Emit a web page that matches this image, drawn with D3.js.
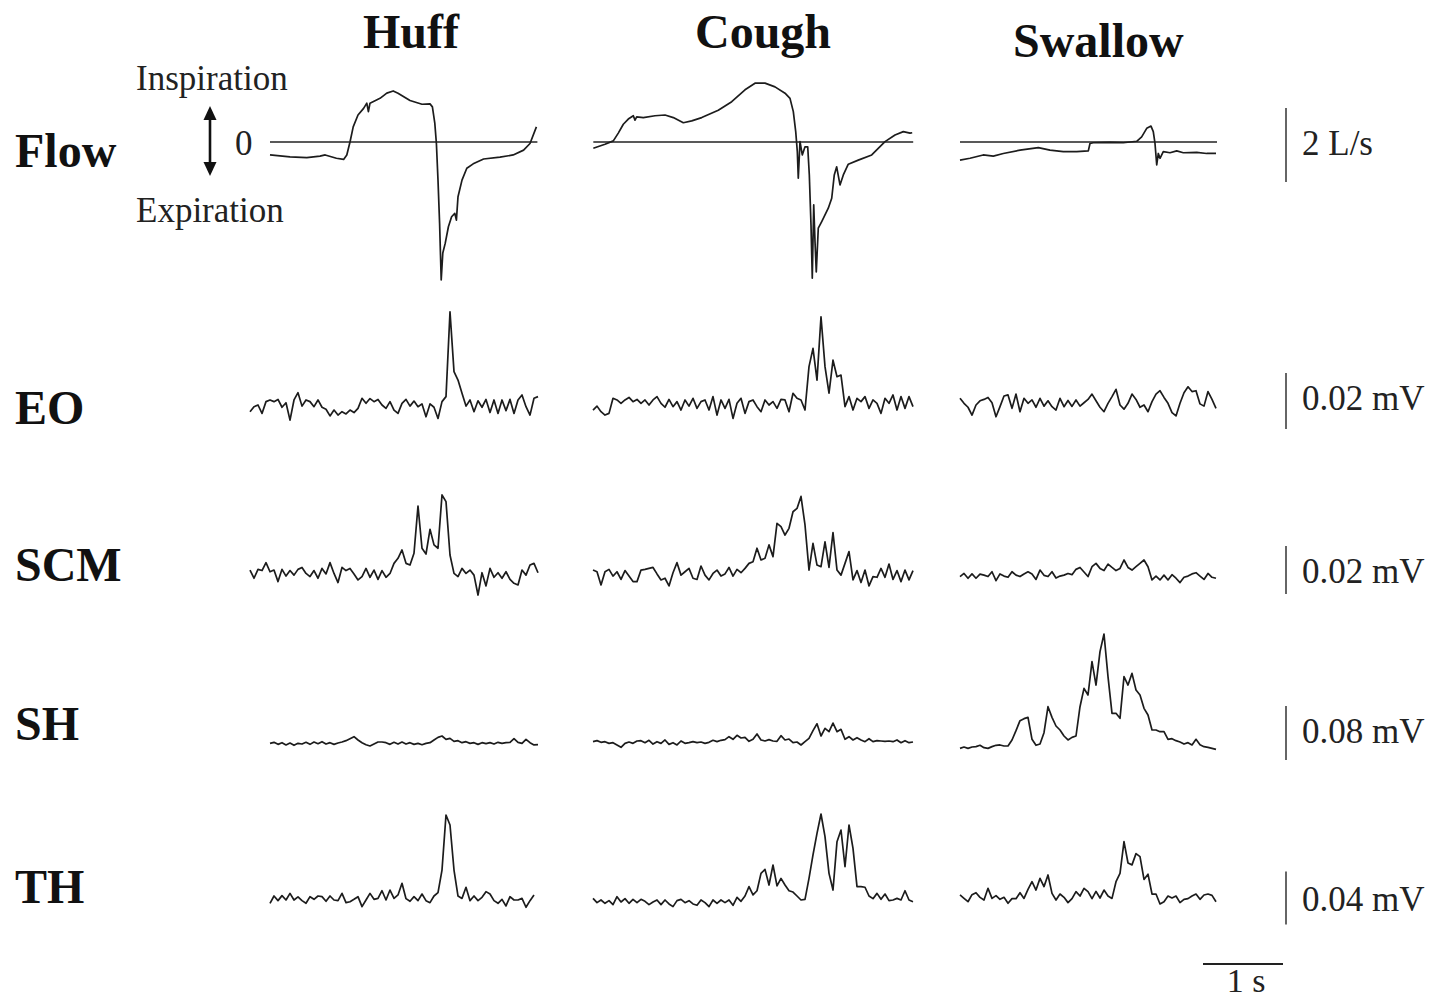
<!DOCTYPE html>
<html><head><meta charset="utf-8">
<script src="https://cdn.jsdelivr.net/npm/d3@7"></script>
<style>body{margin:0;background:#fff}svg{display:block}</style>
</head><body>
<script>
// ---------------- DATA ----------------
const columns = ["Huff", "Cough", "Swallow"];
const rows = ["Flow", "EO", "SCM", "SH", "TH"];
const scaleLabels = ["2 L/s", "0.02 mV", "0.02 mV", "0.08 mV", "0.04 mV"];
const scaleValues = [2, 20, 20, 80, 40];       // Flow in L/s, EMG in µV
const timeBarValue = 1;                         // s
const timeBarLabel = "1 s";
const flowLabels = ["Inspiration", "0", "Expiration"];
const sampleInterval = 0.05;                    // s, EMG samples

// Flow traces: [time (s), flow (L/s)]
const flowHuff = [[0.25,-0.35],[0.5,-0.4],[0.71,-0.42],[0.875,-0.38],[0.94,-0.35],[1.08,-0.44],[1.17,-0.47],[1.21,-0.35],[1.25,0],[1.29,0.41],[1.35,0.73],[1.42,0.91],[1.46,1.05],[1.48,0.82],[1.5,1.05],[1.625,1.18],[1.71,1.32],[1.79,1.38],[1.85,1.32],[2.0,1.12],[2.15,1.02],[2.25,1.03],[2.28,0.95],[2.31,0.51],[2.33,-0.04],[2.35,-1.03],[2.37,-2.2],[2.39,-3.73],[2.41,-3.0],[2.44,-2.74],[2.48,-2.29],[2.52,-2.02],[2.56,-1.93],[2.58,-2.11],[2.6,-1.48],[2.65,-1.03],[2.71,-0.71],[2.79,-0.59],[2.92,-0.46],[3.125,-0.41],[3.29,-0.35],[3.42,-0.22],[3.5,-0.04],[3.58,0.41]];
const flowCough = [[0.004,-0.17],[0.15,-0.06],[0.254,0.03],[0.316,0.24],[0.379,0.48],[0.441,0.62],[0.504,0.71],[0.525,0.59],[0.546,0.68],[0.629,0.66],[0.775,0.71],[0.9,0.73],[1.004,0.66],[1.129,0.52],[1.234,0.57],[1.359,0.66],[1.566,0.86],[1.734,1.09],[1.9,1.41],[2.025,1.59],[2.15,1.59],[2.275,1.49],[2.4,1.32],[2.4625,1.18],[2.504,0.82],[2.534,0.28],[2.554,-0.26],[2.566,-0.98],[2.5875,0.01],[2.616,-0.35],[2.65,-0.13],[2.684,-0.13],[2.704,-0.89],[2.725,-2.24],[2.741,-3.68],[2.759,-1.7],[2.775,-2.69],[2.791,-3.51],[2.816,-2.33],[2.859,-2.15],[2.9,-1.97],[2.941,-1.79],[2.984,-1.52],[3.016,-0.89],[3.046,-0.67],[3.0875,-1.16],[3.129,-0.89],[3.191,-0.6],[3.316,-0.49],[3.484,-0.35],[3.65,0.01],[3.775,0.19],[3.879,0.28],[3.9625,0.24],[3.99,0.25]];
const flowSwallow = [[0,-0.49],[0.125,-0.44],[0.29,-0.35],[0.416,-0.38],[0.541,-0.31],[0.75,-0.22],[0.979,-0.15],[1.125,-0.22],[1.291,-0.26],[1.459,-0.26],[1.604,-0.24],[1.625,-0.04],[1.666,-0.02],[1.875,-0.01],[2.041,-0.02],[2.209,0.02],[2.271,0.14],[2.334,0.37],[2.3875,0.43],[2.416,0.28],[2.4375,-0.04],[2.459,-0.62],[2.479,-0.31],[2.5,-0.44],[2.541,-0.26],[2.625,-0.29],[2.709,-0.24],[2.791,-0.29],[2.959,-0.28],[3.084,-0.31],[3.2,-0.31]];

// EMG traces (µV), regular samples every sampleInterval
const eoHuff = [-2.4,-0.6,0,-3,1.2,1.8,1.2,2,-0.8,0.8,-5.4,1.8,4.4,-0.4,1.8,1.2,-0.6,1.8,-0.8,-1.5,-3.9,-1.8,-3.6,-2.4,-3.2,-1.8,-2.7,-1.2,2.4,0.6,2.3,1.2,2,0,-1.2,1.2,-1.8,-3,0.6,2,-0.4,1.4,-0.6,0.4,-4.2,0.4,-0.8,-4.8,1.2,3,33.3,11.9,8.9,4.2,-0.4,1.8,-2.4,1.5,-0.8,2,-2.7,1.8,-3,1.8,-2,2,-3,1.8,3.6,-0.6,-3.6,2.4,3];
const eoCough = [-1.8,-0.4,-2.4,-3.6,-3,2.4,1.8,0.6,1.8,2.7,1.2,2,0.6,1.8,0,1.8,3,0.6,-0.8,2,-0.6,1.2,-1.8,1.8,-0.4,2.4,-1.2,1.2,1.8,-1.8,3,-3.6,1.8,-1.2,2,-4.8,0.6,2.4,-3,1.2,1.8,-0.6,-2.4,1.8,0,1.2,-1.2,2,1.8,-2.4,4.2,2.4,1.8,-1.8,13.7,20.2,8.9,31.5,13.7,4.2,16,10.1,10.7,-0.6,3,-1.8,2.4,1.2,3,-1.2,1.8,0.6,-3,2.4,0.6,3.6,-1.8,3,-1.2,3,-0.6];
const eoSwallow = [2.4,0.6,-0.8,-3.6,0,1.5,2,2.7,0.8,-4.2,-0.6,3.2,3.6,-1.2,3.9,-2.4,2.4,0.6,1.8,-0.8,2.4,-0.4,1.5,-0.6,-1.8,2.4,-0.6,1.6,-0.5,1.8,-0.4,0.8,2,3.9,1.5,-0.8,-2.4,0.6,3,5.6,0,-1.5,0.6,3.9,2,-0.8,0,-2.4,1.2,3.9,5.1,2.7,0.6,-2.7,-3.9,0.6,4.4,6.5,4.8,5.1,0.4,-0.4,4.8,2,-1.2];
const scmHuff = [0.8,-2.6,1.1,0.6,3.9,0.1,0.8,-4,1.1,-1.7,0.6,-1.3,1.1,1.9,-0.6,-1.9,0.6,-2.6,1.5,-0.8,3.9,-0.6,-4.4,1.9,0.6,1.5,-0.8,-3.3,-1.9,1.5,-2.2,0.8,-3.1,0.6,-2.2,-0.6,3.6,5.7,9.2,3.6,2.9,7.8,27.5,9.9,7.5,17.8,11.3,9.9,32.1,29.3,7.1,-0.6,-1.9,1.5,-0.6,0.8,-1.3,-9.6,-0.3,-5.8,1.5,-2.2,-0.3,-2.6,0.1,-3.1,-4.7,-5.4,0.8,-1.3,2.9,3.6,-0.3];
const scmCough = [0.8,0.1,-5.4,0.1,1.1,-1.7,0.1,-3.1,0.6,-1.7,-4,-4,0.8,1.1,1.5,1.9,-0.8,-3.3,-2.6,-5.8,-0.3,3.9,-1.3,0.1,1.5,-2.6,-3.1,2.5,-1.3,-3.3,-0.6,0.8,-1.7,-0.8,1.9,-1.7,1.1,-0.3,1.5,3.6,4.3,9.9,5,5.7,11.3,6.4,20.3,18.9,15.4,18.2,25.1,26.5,31.5,19.6,0.8,11.9,2.9,2.2,12.6,1.9,16.4,0.8,-1.3,3.6,8.5,-3.3,0.6,-4.4,0.8,-5.8,-1.9,-2.2,1.5,-2.2,3.3,-3.1,0.6,-4,0.8,-3.3,0.6];
const scmSwallow = [-1.9,-0.6,-2.6,-0.8,-2.6,-0.9,-1.3,-1.9,0.1,-3.6,-0.8,-1.7,-2.2,0.1,-1.3,-1.9,-0.8,0.1,-0.8,-3.1,0.8,-1.4,-1.9,0.1,-2.5,-1.7,-1.3,-0.6,-1.1,1.1,1.9,0,-1.9,2.2,3.6,1.5,0.6,3.3,1.9,0.6,1.5,5,1.9,0.8,2.2,3.6,5,2.2,-3.3,-1.7,-3.3,-1.3,-3.3,-1.1,-2.6,-4.4,-2.2,-1.7,-0.8,-0.3,-1.7,-3.1,-0.6,-2.2,-2.6];
const shHuff = [-2,-0.5,-3.5,-1,-4.4,-1.5,-4.9,-2,-3,-0.5,-3.5,0,-2.5,0.5,-3,-1,-3.5,-1.5,0,2,4.9,7.9,3,-1,-4,-5.9,-3,0,0,-1,-3.5,-0.5,-3,0,-3,-1,-3.5,-2,-4,-2,-1,3,6.9,8.9,4,5.4,1,2,-1,0.5,-2,-1,-3.5,-1,-2.5,-1,-3,-0.5,-2,-1,-0.5,4.9,-0.5,-2,4,-1,-4.4,-4];
const shCough = [0.5,2,-0.5,0.5,-2,-1,-4.4,-7.9,-2,0,-2,1.5,2,-1,2.5,-3,0.5,-2,3,-3.5,-1,-4.4,1.5,-2,-1,0.5,-1,0,-2,-0.5,2.5,0.5,2.5,3.5,7.9,4,9.9,5.9,6.9,1,4,11.9,3,1.5,3.5,1.5,1,9.4,3,4.4,-1,0,-4.4,0.5,5.4,16.8,27,8.9,20.2,15.3,28,15.3,18.8,4,7.9,3,6.4,3,0.5,4.9,0.5,2,1.5,1,1.5,0.5,3,-1,2,-1,0];
const shSwallow = [-9.4,-7.4,-9.4,-7.4,-6.9,-4.9,-8.4,-9.4,-6.9,-4.9,-4.4,-5.9,-5.9,3,16.8,31.6,34.6,36.5,4,-4.9,-3,13.8,52.3,36.5,23.7,17.8,8.9,3,6.9,8.9,52.3,79.5,69.6,119,84.4,133.8,160,96.8,42.5,42.5,35.1,96.8,84.4,101.7,77,69.6,49.9,40,17.8,17.8,15.3,15.3,4,4.9,2,0,-3,-1,-4.4,4,-4,-6.9,-7.9,-9.4,-10.9];
const thHuff = [-4,1.5,-2,1.8,-1.5,3.5,-1.5,0.8,-2,-4,1,-1,1.5,1,-2.5,1.5,-1.5,-2,3.5,-3.5,-2.8,-1,1,-6.5,-1.5,3.5,-1,-0.3,5.5,-1.5,6,-0.3,2.3,11.1,-0.5,-2.5,1,-2,3,-2,-3.5,1.5,4,21.1,62.6,55.1,21.1,1.5,-0.3,8.1,-2,1.5,-2,0.5,4.8,3,-2,-4,-1,-6,1,-1.5,-1.5,-0.3,-7,-2,2.3];
const thCough = [-0.3,-3.5,-1.5,-4,-2,-5,1,-3,-0.5,-4,-1,-3.5,-1,-2.5,-5,-3,-1.5,-5,-1.5,-4.5,-6.5,-2,-1,-3.5,-2,-4.5,-5.5,-1.5,-3.5,-6.5,-1.5,-4,-1.5,-3.5,-1.5,-5.5,0.5,-2.5,1.5,8.6,2.3,5.5,18.6,21.6,9.8,24.9,9.1,14.8,9.8,5.5,4.5,1.5,-1.5,-1,14.8,32.5,48.8,63.4,46.3,18.6,6,42.5,51.3,23.6,55.1,37.5,8.6,8.6,8.1,1.5,-0.5,3.5,-1,3,-2,-1.5,-0.3,-1.5,5.5,-1.5,-2.8];
const thSwallow = [2.3,-0.3,-2.8,2.5,4,0.5,-1.5,7.3,-0.3,1.8,-1,0.5,-4,-0.5,-0.5,4,-0.3,6.5,12.3,6,14.8,8.6,17.4,3.5,-1.5,3,0.5,-3.5,-0.5,4.8,1.5,7.3,4.8,-0.5,5,0,6,1.5,-0.3,12.3,18.6,42.5,26.4,25,33.5,31.2,14,18,3,3,-4.5,-2.8,1.5,0,1.5,-3.5,-1,-0.5,1.5,3,-1,2.3,3,2,-2.8];

// start time (s) of each EMG trace, per column: EO, SCM, SH, TH
const emgStartHuff = [0, 0, 0.25, 0.25];
const emgStartCough = [0, 0, 0, 0];
const emgStartSwallow = [0, 0, 0, 0];

// ---------------- LAYOUT ----------------
const W = 1430, H = 1001;
const serif = "'Liberation Serif','Times New Roman',Times,serif";
const colX0 = [250, 593, 960];
const pxPerSecond = 80;
const rowZero = [142, 405, 572, 742, 898];
const barPx = [74, 56, 48, 54, 53];
const barCenter = [145, 401, 570, 733, 898];
const rowLabelY = [167, 424, 581, 740, 903];
const scaleLabelY = [155, 410, 583, 743, 911];
const titleX = [363, 695, 1013], titleY = [48, 48, 57];

const svg = d3.select("body").append("svg").attr("width", W).attr("height", H)
  .style("font-family", serif);

const xScales = colX0.map(x0 => d3.scaleLinear().domain([0, 1]).range([x0, x0 + pxPerSecond]));
const yScales = rows.map((r, i) => d3.scaleLinear().domain([0, scaleValues[i]]).range([rowZero[i], rowZero[i] - barPx[i]]));

const flowData = [flowHuff, flowCough, flowSwallow];
const emgData = [
  [eoHuff, scmHuff, shHuff, thHuff],
  [eoCough, scmCough, shCough, thCough],
  [eoSwallow, scmSwallow, shSwallow, thSwallow]
];
const emgStarts = [emgStartHuff, emgStartCough, emgStartSwallow];

// titles
svg.selectAll("text.title").data(columns).join("text")
  .attr("x", (d, i) => titleX[i]).attr("y", (d, i) => titleY[i])
  .attr("font-size", 48).attr("font-weight", "bold").attr("fill", "#111").text(d => d);

// row labels
svg.selectAll("text.row").data(rows).join("text")
  .attr("x", 15).attr("y", (d, i) => rowLabelY[i])
  .attr("font-size", 48).attr("font-weight", "bold").attr("fill", "#111").text(d => d);

// flow annotations
svg.append("text").attr("x", 136).attr("y", 90).attr("font-size", 35).attr("fill", "#222").text(flowLabels[0]);
svg.append("text").attr("x", 235).attr("y", 155).attr("font-size", 35).attr("fill", "#222").text(flowLabels[1]);
svg.append("text").attr("x", 136).attr("y", 222).attr("font-size", 35).attr("fill", "#222").text(flowLabels[2]);
svg.append("line").attr("x1", 210).attr("x2", 210).attr("y1", 116).attr("y2", 166)
  .attr("stroke", "#111").attr("stroke-width", 2.6);
svg.append("path").attr("d", "M210,106 L203.5,120 L216.5,120 Z").attr("fill", "#111");
svg.append("path").attr("d", "M210,176 L203.5,162 L216.5,162 Z").attr("fill", "#111");

const traceStyle = sel => sel.attr("fill", "none").attr("stroke", "#1c1c1c")
  .attr("stroke-width", 1.7).attr("stroke-linejoin", "round");

// flow traces + zero lines
flowData.forEach((data, c) => {
  const xs = xScales[c], ys = yScales[0];
  const ext = d3.extent(data, d => d[0]);
  svg.append("line").attr("x1", xs(ext[0])).attr("x2", xs(ext[1]) + 1)
    .attr("y1", ys(0)).attr("y2", ys(0)).attr("stroke", "#222").attr("stroke-width", 1.5);
  const line = d3.line().x(d => xs(d[0])).y(d => ys(d[1]));
  svg.append("path").datum(data).attr("d", line).call(traceStyle);
});

// EMG traces
emgData.forEach((col, c) => {
  const xs = xScales[c];
  col.forEach((vals, k) => {
    const ys = yScales[k + 1];
    const t0 = emgStarts[c][k];
    const pts = vals.map((v, i) => [t0 + i * sampleInterval, v]);
    const line = d3.line().x(d => xs(d[0])).y(d => ys(d[1]));
    svg.append("path").datum(pts).attr("d", line).call(traceStyle);
  });
});

// amplitude scale bars
const barX = 1286;
rows.forEach((r, i) => {
  const ys = yScales[i];
  const len = ys(0) - ys(scaleValues[i]);
  svg.append("line").attr("x1", barX).attr("x2", barX)
    .attr("y1", barCenter[i] - len / 2).attr("y2", barCenter[i] + len / 2)
    .attr("stroke", "#666").attr("stroke-width", 2);
  svg.append("text").attr("x", 1302).attr("y", scaleLabelY[i])
    .attr("font-size", 35).attr("fill", "#222").text(scaleLabels[i]);
});

// time scale bar
const tb0 = 1203, tbLen = xScales[0](timeBarValue) - xScales[0](0);
svg.append("line").attr("x1", tb0).attr("x2", tb0 + tbLen).attr("y1", 964).attr("y2", 964)
  .attr("stroke", "#222").attr("stroke-width", 2);
svg.append("text").attr("x", tb0 + tbLen / 2 + 3).attr("y", 992).attr("text-anchor", "middle")
  .attr("font-size", 34).attr("fill", "#222").text(timeBarLabel);
</script>
</body></html>
